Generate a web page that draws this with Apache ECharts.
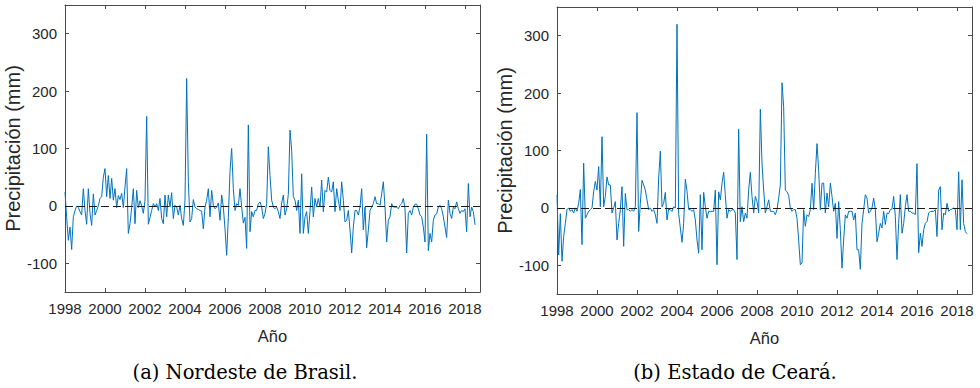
<!DOCTYPE html>
<html>
<head>
<meta charset="utf-8">
<script src="https://cdn.jsdelivr.net/npm/echarts@6/dist/echarts.min.js"></script>
<style>
html,body{margin:0;padding:0;background:#ffffff;}
#chart{width:980px;height:388px;}
</style>
</head>
<body>
<div id="chart"></div>
<script>
// ---- data (monthly anomalies, Jan 1998 .. Jul 2018) ----
const startYear = 1998;
const xTickValues = [1998, 2000, 2002, 2004, 2006, 2008, 2010, 2012, 2014, 2016, 2018];
const yTickValues = [-100, 0, 100, 200, 300];

const nordeste = [
  24, -20, -60, -37, -76, -19, -8, 0, -3, -10, -16, 30,
  -8, -32, 30, -13, -34, 21, -16, -8, 0, 13, 16, 50,
  65, 16, 53, 13, 48, 10, 30, -3, 18, 11, 22, -3,
  33, 65, -48, -31, -3, 30, -31, 27, -3, 9, 0, -13,
  10, 156, -32, -20, -8, 4, -2, 4, -8, 13, -22, -31,
  19, -19, 19, -2, 23, -22, 1, -2, -16, 1, -22, -34,
  10, 222, 42, -28, -22, 11, -2, -5, -6, -8, -9, -40,
  -2, 10, 30, -19, 27, 1, -5, -2, 5, -25, 19, -2,
  -40, -86, -20, 60, 100, 30, -8, 4, 1, 30, -2, -30,
  -20, -74, 141, -45, -10, -19, -8, -8, 4, 7, -2, -22,
  -13, 4, 103, 53, 10, -2, -5, -2, -10, -22, 5, 19,
  -16, -5, 20, 132, 97, 16, 10, -8, 10, -48, 56, -48,
  -19, -10, -48, -10, 33, -19, 13, -2, 13, -2, 45, -10,
  27, 24, 50, 27, 24, 42, -10, 30, 10, -8, 42, 10,
  -28, -25, -8, -42, -82, -37, -8, -8, -16, -2, 30, -42,
  -2, -73, -42, -8, -2, 4, 16, 4, 4, 1, 21, 42,
  -2, -63, -25, -19, 4, -2, -2, -2, -5, 1, 4, 13,
  -5, -82, -13, -8, -16, -2, 3, 3, -5, -16, -19, -37,
  -63, 125, -78, -48, -63, -25, -16, -14, -2, 1, -5, -19,
  -37, -55, 10, -13, -22, -2, -5, 7, -5, -13, -8, -10,
  -5, -45, 39, -19, -2, -10, -33
];

const ceara = [
  23, -82, -10, -93, -50, -27, -3, 0, -6, -3, -9, 0,
  -6, 8, 32, -64, 78, -18, -12, -6, -3, 0, 28, 46,
  31, 72, 2, 124, 2, 20, 54, 40, 40, -9, 0, 11,
  -56, -27, -3, 37, -67, 25, -3, -3, -6, -3, -6, 2,
  166, -41, 8, 48, 40, 31, 14, -3, 0, -6, -3, -12,
  -27, 52, 99, 2, 8, 27, -21, -2, -3, -6, 2, 0,
  320, -10, -35, -60, -27, 50, 29, -3, -3, -6, -3, -21,
  -56, -79, 23, -73, 27, 2, -18, -6, -6, -6, -6, 31,
  -99, 28, 14, 43, 62, 22, -18, -3, -6, -3, -3, -9,
  -90, 137, -24, 2, -24, -9, -18, 31, 62, 20, -9, 20,
  11, -9, 172, 78, 31, -9, 2, 14, -6, -6, -6, -12,
  -3, 17, 40, 218, 176, 31, 28, 22, 0, -6, -3, -3,
  -18, -56, -99, -96, -3, -32, -12, -15, -3, 43, -3, 60,
  112, 66, -3, 43, 43, -9, 26, 2, 43, 20, -6, 8,
  -53, 11, -38, -105, -56, -12, -18, -6, -6, -6, -21, -9,
  -73, -73, -107, -27, -3, 23, 17, -9, -6, 0, 17, -3,
  -59, -44, -27, -35, -6, -29, -9, -10, -3, -2, 20, -15,
  -90, -27, 23, -44, -27, 2, 23, -6, -6, -9, -9, -12,
  77, -78, -44, -67, -38, -27, -24, -9, -6, -6, -6, -3,
  -50, 31, 37, -38, -9, -12, 8, -6, -3, -2, 0, -3,
  -38, 63, -38, 49, -27, -41, -45
];

const captions = ['(a) Nordeste de Brasil.', '(b) Estado de Ceará.'];
const xTitle = 'Año';
const yTitle = 'Precipitación (mm)';

// ---- chart ----
const axisColor = '#4a4a4a';
const textColor = '#262626';
const sans = 'Liberation Sans, Arial, Helvetica, sans-serif';

function toPairs(vals) {
  return vals.map((v, i) => [startYear + i / 12, v]);
}

const gridDefs = [
  { left: 65, top: 5, width: 415, height: 287 },
  { left: 557, top: 7, width: 415, height: 287 }
];

const xAxes = [], yAxes = [], series = [];
gridDefs.forEach((g, gi) => {
  ['bottom', 'top'].forEach(pos => {
    xAxes.push({
      type: 'value', gridIndex: gi, position: pos,
      min: 1998, max: 2018.75,
      name: pos === 'bottom' ? xTitle : '',
      nameLocation: 'middle', nameGap: 35,
      nameTextStyle: { fontFamily: sans, fontSize: 16.5, color: textColor },
      axisLine: { show: true, onZero: false, lineStyle: { color: axisColor, width: 1 } },
      axisTick: { show: true, inside: true, length: 4, customValues: xTickValues, lineStyle: { color: axisColor } },
      axisLabel: { show: pos === 'bottom', customValues: xTickValues, margin: 9,
        fontFamily: sans, fontSize: 15, color: textColor, formatter: v => String(v) },
      splitLine: { show: false }
    });
  });
  ['left', 'right'].forEach(pos => {
    yAxes.push({
      type: 'value', gridIndex: gi, position: pos,
      min: -150, max: 350,
      name: pos === 'left' ? yTitle : '',
      nameLocation: 'middle', nameGap: 37,
      nameTextStyle: { fontFamily: sans, fontSize: 20, color: textColor },
      axisLine: { show: true, onZero: false, lineStyle: { color: axisColor, width: 1 } },
      axisTick: { show: true, inside: true, length: 4, customValues: yTickValues, lineStyle: { color: axisColor } },
      axisLabel: { show: pos === 'left', customValues: yTickValues, margin: 8,
        fontFamily: sans, fontSize: 15, color: textColor, formatter: v => String(v) },
      splitLine: { show: false }
    });
  });
});

[nordeste, ceara].forEach((vals, gi) => {
  series.push({
    type: 'line',
    xAxisIndex: gi * 2,
    yAxisIndex: gi * 2,
    data: toPairs(vals),
    showSymbol: false,
    symbol: 'none',
    lineStyle: { color: '#0072BD', width: 1 },
    z: 3,
    markLine: {
      silent: true,
      symbol: 'none',
      label: { show: false },
      lineStyle: { color: '#1a1a1a', type: [8, 4], width: 1 },
      data: [{ yAxis: 0 }],
      z: 4
    }
  });
});

const chart = echarts.init(document.getElementById('chart'), null, { renderer: 'svg' });
chart.setOption({
  animation: false,
  backgroundColor: '#ffffff',
  grid: gridDefs,
  xAxis: xAxes,
  yAxis: yAxes,
  series: series,
  graphic: [
    { type: 'text', x: 245, y: 372, style: { text: captions[0], textAlign: 'center', textVerticalAlign: 'middle',
      font: '19.5px "DejaVu Serif", serif', fill: '#000' } },
    { type: 'text', x: 735, y: 372, style: { text: captions[1], textAlign: 'center', textVerticalAlign: 'middle',
      font: '19.5px "DejaVu Serif", serif', fill: '#000' } }
  ]
});
</script>
</body>
</html>
